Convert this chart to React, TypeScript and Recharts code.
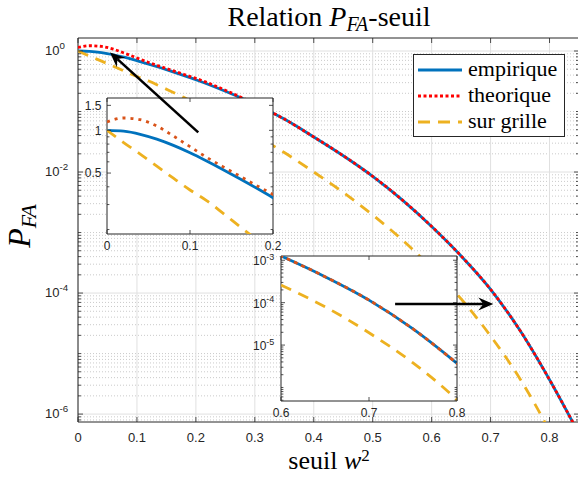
import React from 'react';
import {
  LineChart,
  Line,
  XAxis,
  YAxis,
  CartesianGrid,
  ReferenceArea,
  ReferenceLine,
  Legend,
} from 'recharts';

// seuil w^2 et P_FA
const seuil = [0, 0.02, 0.04, 0.06, 0.08, 0.1, 0.12, 0.14, 0.16, 0.18, 0.2, 0.25, 0.3, 0.35, 0.4, 0.45, 0.5, 0.55, 0.6, 0.65, 0.7, 0.75, 0.8, 0.85];
const empirique = [1.0, 0.986, 0.938, 0.867, 0.783, 0.695, 0.608, 0.528, 0.456, 0.392, 0.335, 0.216, 0.132, 0.075, 0.038, 0.0186, 0.0085, 0.00347, 1.26e-3, 4.1e-4, 1.15e-4, 2.4e-5, 3.7e-6, 4.7e-7];
const theorique = [1.146, 1.222, 1.189, 1.072, 0.912, 0.767, 0.646, 0.553, 0.476, 0.409, 0.353, 0.225, 0.134, 0.075, 0.038, 0.0186, 0.0085, 0.00347, 1.26e-3, 4.1e-4, 1.15e-4, 2.4e-5, 3.7e-6, 4.7e-7];
const surGrille = [1.0, 0.82, 0.68, 0.56, 0.46, 0.38, 0.32, 0.26, 0.21, 0.17, 0.135, 0.076, 0.041, 0.021, 0.01, 4.6e-3, 1.95e-3, 7.6e-4, 2.6e-4, 8.0e-5, 1.95e-5, 3.8e-6, 5.1e-7, 4.0e-8];

const seriesNames = ['empirique', 'theorique', 'sur grille'];

const mainXTicks = [0, 0.1, 0.2, 0.3, 0.4, 0.5, 0.6, 0.7, 0.8];
const mainYLabeled = [1e-6, 1e-4, 1e-2, 1];
const mainXDomain = [0, 0.85];
const mainYDomain = [7.4e-7, 1.64];

const zoom1XTicks = [0, 0.1, 0.2];
const zoom1YLabeled = [0.5, 1, 1.5];
const zoom1YDomain = [0.186, 1.69];

const zoom2XTicks = [0.6, 0.7, 0.8];
const zoom2YLabeled = [1e-5, 1e-4, 1e-3];
const zoom2YDomain = [4.8e-7, 1.26e-3];

// fleches (coordonnees en donnees)
const fleches = [
  { from: { x: 0.204, y: 0.0452 }, to: { x: 0.0543, y: 0.948 } },
  { from: { x: 0.538, y: 6.58e-5 }, to: { x: 0.7046, y: 6.58e-5 } },
];

const data = seuil.map((s, i) => ({
  seuil: s,
  empirique: empirique[i],
  theorique: theorique[i],
  surGrille: surGrille[i],
}));

const BLUE = '#0072BD';
const RED = '#FF0000';
const ORANGE = '#D95319';
const YELLOW = '#EDB120';
const AXIS = '#262626';
const SANS = 'Liberation Sans, Arial, sans-serif';
const SERIF = 'Liberation Serif, Times New Roman, serif';

// graduations log : m x 10^k
function logTicks(lo: number, hi: number) {
  const out: number[] = [];
  for (let k = -8; k <= 1; k++) {
    for (let m = 1; m <= 9; m++) {
      const v = +(m * Math.pow(10, k)).toPrecision(3);
      if (v >= lo && v <= hi) out.push(v);
    }
  }
  return out;
}
const same = (a: number, b: number) => Math.abs(a - b) <= Math.abs(b) * 1e-6;

const mainYTicks = logTicks(mainYDomain[0], mainYDomain[1]);
const mainYMinorGrid = mainYTicks.filter((v) => !mainYLabeled.some((m) => same(v, m)));
const zoom1YTicks = [0.2, 0.3, 0.4, 0.5, 0.6, 0.7, 0.8, 0.9, 1, 1.5];
const zoom2YTicks = logTicks(zoom2YDomain[0], zoom2YDomain[1]);

type Box = { left: number; right: number; top: number; bottom: number };

const makeXTick = (box: Box, fontSize: number, labelDy: number, len: number) => (props: any) => {
  const { x, payload } = props;
  return (
    <g>
      <line x1={x} x2={x} y1={box.bottom} y2={box.bottom - len} stroke={AXIS} strokeWidth={0.8} />
      <line x1={x} x2={x} y1={box.top} y2={box.top + len} stroke={AXIS} strokeWidth={0.8} />
      <text x={x} y={box.bottom + labelDy} textAnchor="middle" style={{ fontFamily: SANS }} fontSize={fontSize} fill={AXIS}>
        {String(payload.value)}
      </text>
    </g>
  );
};

const makeYTick = (
  box: Box,
  labeled: number[],
  opts: { pow: boolean; labelX: number; anchor: 'start' | 'end'; fontSize: number; dy: number; len: number }
) => (props: any) => {
  const { y, payload } = props;
  const v = payload.value as number;
  const isLabel = labeled.some((m) => same(v, m));
  const len = isLabel ? opts.len : opts.len * 0.6;
  let label: React.ReactNode = null;
  if (isLabel) {
    label = opts.pow ? (
      <text x={opts.labelX} y={y + opts.dy} textAnchor={opts.anchor} style={{ fontFamily: SANS }} fontSize={opts.fontSize} fill={AXIS}>
        10
        <tspan fontSize={opts.fontSize * 0.75} dy={-opts.fontSize * 0.45}>
          {String(Math.round(Math.log10(v)))}
        </tspan>
      </text>
    ) : (
      <text x={opts.labelX} y={y + opts.dy} textAnchor={opts.anchor} style={{ fontFamily: SANS }} fontSize={opts.fontSize} fill={AXIS}>
        {String(v)}
      </text>
    );
  }
  return (
    <g>
      <line x1={box.left} x2={box.left + len} y1={y} y2={y} stroke={AXIS} strokeWidth={0.8} />
      <line x1={box.right} x2={box.right - len} y1={y} y2={y} stroke={AXIS} strokeWidth={0.8} />
      {label}
    </g>
  );
};

const Fleche = (p: any) => {
  const { x1, y1, x2, y2 } = p;
  const dx = x2 - x1;
  const dy = y2 - y1;
  const l = Math.hypot(dx, dy) || 1;
  const ux = dx / l;
  const uy = dy / l;
  const nx = -uy;
  const ny = ux;
  const L = 15;
  const W = 6.5;
  const N = 10;
  const bx = x2 - ux * L;
  const by = y2 - uy * L;
  const cx = x2 - ux * N;
  const cy = y2 - uy * N;
  return (
    <g>
      <line x1={x1} y1={y1} x2={cx} y2={cy} stroke="#000" strokeWidth={2.6} />
      <path d={`M${x2},${y2} L${bx + nx * W},${by + ny * W} L${cx},${cy} L${bx - nx * W},${by - ny * W} Z`} fill="#000" />
    </g>
  );
};

const LegendBox = () => {
  const styles = [
    { color: BLUE, dash: undefined as string | undefined },
    { color: RED, dash: '3 2.5' },
    { color: YELLOW, dash: '12 8' },
  ];
  return (
    <svg width={153} height={84} style={{ display: 'block' }}>
      <rect x={0.5} y={0.5} width={151} height={82} fill="#fff" stroke={AXIS} strokeWidth={1} />
      {seriesNames.map((name, i) => (
        <g key={name}>
          <line x1={5} x2={49} y1={16 + i * 26} y2={16 + i * 26} stroke={styles[i].color} strokeWidth={2.8} strokeDasharray={styles[i].dash} />
          <text x={55} y={22 + i * 26} style={{ fontFamily: SERIF }} fontSize={22} fill="#000">
            {name}
          </text>
        </g>
      ))}
    </svg>
  );
};

const mainBox: Box = { left: 78, right: 579, top: 38, bottom: 422 };
const zoom1Box: Box = { left: 51, right: 217, top: 10, bottom: 146 };
const zoom2Box: Box = { left: 45, right: 221, top: 10, bottom: 155 };

export default function App() {
  return (
    <div style={{ position: 'absolute', left: 0, top: 0, width: 578, height: 481, overflow: 'hidden', background: '#fff' }}>
      {/* graphique principal */}
      <div style={{ position: 'absolute', left: 0, top: 0 }}>
        <LineChart width={590} height={481} data={data} margin={{ top: 38, right: 11, bottom: 0, left: 0 }}>
          <CartesianGrid horizontalValues={mainYMinorGrid} vertical={false} stroke="#bdbdbd" strokeWidth={0.8} strokeDasharray="1 2" />
          <CartesianGrid horizontalValues={mainYLabeled} stroke="#e0e0e0" strokeWidth={1} />
          <XAxis
            dataKey="seuil"
            type="number"
            domain={mainXDomain}
            ticks={mainXTicks}
            interval={0}
            allowDataOverflow
            axisLine={false}
            tickLine={false}
            height={59}
            tick={makeXTick(mainBox, 13, 20, 5)}
          />
          <YAxis
            type="number"
            scale="log"
            domain={mainYDomain}
            ticks={mainYTicks}
            interval={0}
            allowDataOverflow
            axisLine={false}
            tickLine={false}
            width={78}
            tick={makeYTick(mainBox, mainYLabeled, { pow: true, labelX: 45, anchor: 'start', fontSize: 13, dy: 4, len: 5 })}
          />
          <Line dataKey="empirique" type="monotone" stroke={BLUE} strokeWidth={2.8} dot={false} isAnimationActive={false} />
          <Line dataKey="theorique" type="monotone" stroke={RED} strokeWidth={2.8} strokeDasharray="3 2.5" dot={false} isAnimationActive={false} />
          <Line dataKey="surGrille" type="monotone" stroke={YELLOW} strokeWidth={2.8} strokeDasharray="11 8" dot={false} isAnimationActive={false} />
          <ReferenceArea x1={mainXDomain[0]} x2={mainXDomain[1]} y1={mainYDomain[0]} y2={mainYDomain[1]} fill="none" fillOpacity={0} stroke={AXIS} strokeWidth={1} />
          <Legend
            layout="vertical"
            align="center"
            verticalAlign="middle"
            wrapperStyle={{ position: 'absolute', left: 413, top: 54, width: 153, height: 84 }}
            content={() => <LegendBox />}
          />
        </LineChart>
      </div>

      {/* zoom 0 - 0.2 */}
      <div style={{ position: 'absolute', left: 56, top: 88 }}>
        <LineChart width={230} height={180} data={data} margin={{ top: 10, right: 13, bottom: 0, left: 0 }}>
          <CartesianGrid horizontal={false} vertical={false} fill="#fff" fillOpacity={1} />
          <XAxis
            dataKey="seuil"
            type="number"
            domain={[0, 0.2]}
            ticks={zoom1XTicks}
            interval={0}
            allowDataOverflow
            axisLine={false}
            tickLine={false}
            height={34}
            tick={makeXTick(zoom1Box, 12, 16, 4)}
          />
          <YAxis
            type="number"
            scale="log"
            domain={zoom1YDomain}
            ticks={zoom1YTicks}
            interval={0}
            allowDataOverflow
            axisLine={false}
            tickLine={false}
            width={51}
            tick={makeYTick(zoom1Box, zoom1YLabeled, { pow: false, labelX: 45.5, anchor: 'end', fontSize: 12, dy: 4.3, len: 4 })}
          />
          <Line dataKey="empirique" type="monotone" stroke={BLUE} strokeWidth={2.8} dot={false} isAnimationActive={false} />
          <Line dataKey="theorique" type="monotone" stroke={ORANGE} strokeWidth={2.8} strokeDasharray="3 5" dot={false} isAnimationActive={false} />
          <Line dataKey="surGrille" type="monotone" stroke={YELLOW} strokeWidth={2.8} strokeDasharray="11 8" dot={false} isAnimationActive={false} />
          <ReferenceArea x1={0} x2={0.2} y1={zoom1YDomain[0]} y2={zoom1YDomain[1]} fill="none" fillOpacity={0} stroke={AXIS} strokeWidth={1} />
        </LineChart>
      </div>

      {/* zoom 0.6 - 0.8 */}
      <div style={{ position: 'absolute', left: 236, top: 246 }}>
        <LineChart width={236} height={180} data={data} margin={{ top: 10, right: 15, bottom: 0, left: 0 }}>
          <CartesianGrid horizontal={false} vertical={false} fill="#fff" fillOpacity={1} />
          <XAxis
            dataKey="seuil"
            type="number"
            domain={[0.6, 0.8]}
            ticks={zoom2XTicks}
            interval={0}
            allowDataOverflow
            axisLine={false}
            tickLine={false}
            height={25}
            tick={makeXTick(zoom2Box, 12, 16, 4)}
          />
          <YAxis
            type="number"
            scale="log"
            domain={zoom2YDomain}
            ticks={zoom2YTicks}
            interval={0}
            allowDataOverflow
            axisLine={false}
            tickLine={false}
            width={45}
            tick={makeYTick(zoom2Box, zoom2YLabeled, { pow: true, labelX: 17, anchor: 'start', fontSize: 12, dy: 5, len: 4 })}
          />
          <Line dataKey="empirique" type="monotone" stroke={BLUE} strokeWidth={2.8} dot={false} isAnimationActive={false} />
          <Line dataKey="theorique" type="monotone" stroke={ORANGE} strokeWidth={2.8} strokeDasharray="4 4" dot={false} isAnimationActive={false} />
          <Line dataKey="surGrille" type="monotone" stroke={YELLOW} strokeWidth={2.8} strokeDasharray="11 8" dot={false} isAnimationActive={false} />
          <ReferenceArea x1={0.6} x2={0.8} y1={zoom2YDomain[0]} y2={zoom2YDomain[1]} fill="none" fillOpacity={0} stroke={AXIS} strokeWidth={1} />
        </LineChart>
      </div>

      {/* fleches par-dessus */}
      <div style={{ position: 'absolute', left: 0, top: 0 }}>
        <LineChart width={590} height={481} data={data} margin={{ top: 38, right: 11, bottom: 59, left: 78 }}>
          <XAxis dataKey="seuil" type="number" domain={mainXDomain} allowDataOverflow hide />
          <YAxis type="number" scale="log" domain={mainYDomain} allowDataOverflow hide />
          <Line dataKey="empirique" stroke="transparent" dot={false} legendType="none" isAnimationActive={false} />
          {fleches.map((f, i) => (
            <ReferenceLine key={i} segment={[f.from, f.to]} ifOverflow="visible" shape={Fleche} />
          ))}
        </LineChart>
      </div>

      {/* titre et etiquettes */}
      <svg width={578} height={481} style={{ position: 'absolute', left: 0, top: 0, pointerEvents: 'none' }}>
        <text x={329} y={26} textAnchor="middle" style={{ fontFamily: SERIF }} fontSize={28} fill="#000">
          Relation <tspan fontStyle="italic">P</tspan>
          <tspan fontStyle="italic" fontSize={20} dy={5}>FA</tspan>
          <tspan dy={-5}>-seuil</tspan>
        </text>
        <text x={329} y={469} textAnchor="middle" style={{ fontFamily: SERIF }} fontSize={26} fill="#000">
          seuil <tspan fontStyle="italic">w</tspan>
          <tspan fontSize={17} dy={-8}>2</tspan>
        </text>
        <text x={30} y={226} textAnchor="middle" style={{ fontFamily: SERIF }} fontSize={32} fill="#000" transform="rotate(-90 30 226)">
          <tspan fontStyle="italic">P</tspan>
          <tspan fontStyle="italic" fontSize={22} dy={6}>FA</tspan>
        </text>
      </svg>
    </div>
  );
}
